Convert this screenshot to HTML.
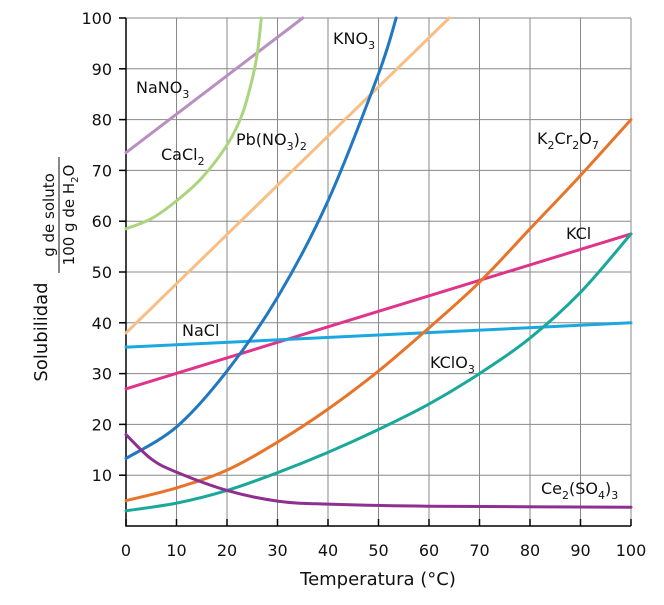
<!DOCTYPE html>
<html><head><meta charset="utf-8"><style>
body{margin:0;background:#fff}
svg text{font-family:"DejaVu Sans","Liberation Sans",sans-serif;fill:#111}
</style></head><body>
<svg id="c" width="664" height="600" xmlns="http://www.w3.org/2000/svg"></svg>
<script>
const xTicks=[0,10,20,30,40,50,60,70,80,90,100];
const yTicks=[10,20,30,40,50,60,70,80,90,100];
const nano3=[[0,73.5],[35,100]];
const cacl2=[[0,58.5],[5,60.5],[10,64],[15,68.5],[20,75],[23,81],[25,88],[26,93],[26.8,100]];
const pbno3=[[0,38],[64,100]];
const kno3=[[0,13.3],[10,19.5],[20,30.5],[30,45],[40,64],[50,89],[53.5,100]];
const k2cr2o7=[[0,5],[10,7.5],[20,11],[30,16.5],[40,23],[50,30.5],[60,39],[70,48],[80,58.5],[90,69],[100,80]];
const kcl=[[0,27],[100,57.5]];
const nacl=[[0,35.2],[100,40]];
const kclo3=[[0,3],[10,4.5],[20,7],[30,10.5],[40,14.5],[50,19],[60,24],[70,30],[80,37],[90,46],[100,57.5]];
const ce2so4=[[0,18],[5,13.2],[10,10.6],[20,7],[30,4.9],[40,4.3],[60,3.9],[100,3.7]];
const svg=document.getElementById('c');const NS='http://www.w3.org/2000/svg';
const X=v=>126+v*5.05, Y=v=>526-v*5.08;
function el(t,a,p){const e=document.createElementNS(NS,t);for(const k in a)e.setAttribute(k,a[k]);(p||svg).appendChild(e);return e;}
yTicks.forEach(v=>{const l=el('line',{x1:119,x2:631,y1:Y(v),y2:Y(v),stroke:'#888','stroke-width':1});


el('line',{x1:119,x2:126,y1:Y(v),y2:Y(v),stroke:'#000','stroke-width':1.5});
const t=el('text',{x:112,y:Y(v)+6,'text-anchor':'end','font-size':16});t.textContent=v;

});
xTicks.forEach(v=>{if(v>0){const l=el('line',{x1:X(v),x2:X(v),y1:Y(100),y2:526,stroke:'#888','stroke-width':1});

}
el('line',{x1:X(v),x2:X(v),y1:519,y2:526,stroke:'#000','stroke-width':1.5});
const t=el('text',{x:X(v),y:556,'text-anchor':'middle','font-size':16});t.textContent=v;

});
const ax=el('path',{d:`M126 ${Y(100)} V526 H631`,stroke:'#000','stroke-width':1.5,fill:'none'});


function path(pts){const p=pts.map(q=>[X(q[0]),Y(q[1])]);let d=`M${p[0][0]} ${p[0][1]}`;
for(let i=0;i<p.length-1;i++){const p0=p[i-1]||p[i],p1=p[i],p2=p[i+1],p3=p[i+2]||p2;
d+=` C${p1[0]+(p2[0]-p0[0])/6} ${p1[1]+(p2[1]-p0[1])/6} ${p2[0]-(p3[0]-p1[0])/6} ${p2[1]-(p3[1]-p1[1])/6} ${p2[0]} ${p2[1]}`;}return d;}
const series=[['nano3-line',nano3,'#b98fc2'],['cacl2-line',cacl2,'#aad57c'],['pbno3-line',pbno3,'#f8bf85'],['kcl-line',kcl,'#e0338a'],['nacl-line',nacl,'#1ba8e0'],['kclo3-line',kclo3,'#1aa89a'],['k2cr2o7-line',k2cr2o7,'#e8742a'],['kno3-line',kno3,'#1f78c1'],['ce2so4-line',ce2so4,'#8e3090']];
series.forEach(s=>{const e=el('path',{d:path(s[1]),stroke:s[2],'stroke-width':3,fill:'none','stroke-linecap':'round'});

});
</script>
<svg width="664" height="600" style="position:absolute;left:0;top:0" xmlns="http://www.w3.org/2000/svg">
<g font-size="16">
<text x="136" y="93">NaNO<tspan font-size="11" dy="5">3</tspan></text>
<text x="161" y="160">CaCl<tspan font-size="11" dy="5">2</tspan></text>
<text x="236" y="145">Pb(NO<tspan font-size="11" dy="5">3</tspan><tspan dy="-5">)</tspan><tspan font-size="11" dy="5">2</tspan></text>
<text x="333" y="44">KNO<tspan font-size="11" dy="5">3</tspan></text>
<text x="537" y="144">K<tspan font-size="11" dy="5">2</tspan><tspan dy="-5">Cr</tspan><tspan font-size="11" dy="5">2</tspan><tspan dy="-5">O</tspan><tspan font-size="11" dy="5">7</tspan></text>
<text x="566" y="239">KCl</text>
<text x="182" y="336">NaCl</text>
<text x="430" y="368">KClO<tspan font-size="11" dy="5">3</tspan></text>
<text x="541" y="494">Ce<tspan font-size="11" dy="5">2</tspan><tspan dy="-5">(SO</tspan><tspan font-size="11" dy="5">4</tspan><tspan dy="-5">)</tspan><tspan font-size="11" dy="5">3</tspan></text>
</g>
<text x="378" y="585" text-anchor="middle" font-size="18">Temperatura (°C)</text>
<g transform="translate(47,332) rotate(-90)">
<text x="0" y="0" text-anchor="middle" font-size="18">Solubilidad</text>
</g>
<g transform="translate(58,215) rotate(-90)" font-size="15">
<text x="0" y="-4" text-anchor="middle">g de soluto</text>
<line x1="-58" x2="58" y1="1" y2="1" stroke="#111" stroke-width="1"/>
<text x="0" y="16" text-anchor="middle">100 g de H<tspan font-size="10" dy="4">2</tspan><tspan dy="-4">O</tspan></text>
</g>
</svg>
</body></html>
